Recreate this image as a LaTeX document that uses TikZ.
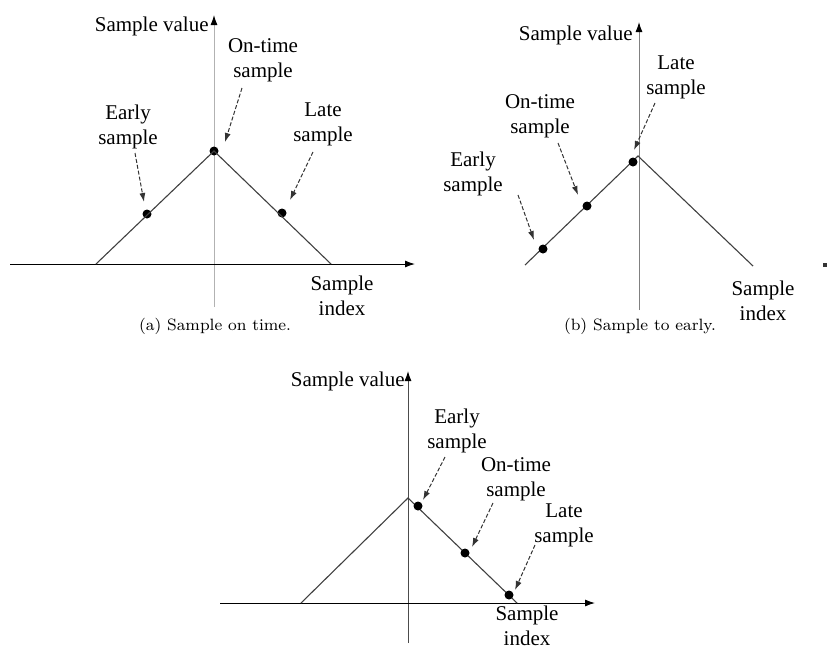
\documentclass[tikz,border=0pt]{standalone}
\usepackage{fontspec}
\setmainfont{Liberation Serif}
\newfontfamily\capfont{Latin Modern Roman}
\usetikzlibrary{arrows.meta}
\begin{document}
\begin{tikzpicture}[x=0.5pt,y=-0.5pt,
  lbl/.style={align=center,inner sep=0pt,font=\fontsize{10.5}{12.5}\selectfont},
  capt/.style={inner sep=0pt,font=\capfont\fontsize{8.2}{10}\selectfont},
  axis/.style={line width=0.5pt,-{Latex[length=5pt,width=3.5pt,color=black]}},
  curve/.style={line width=0.55pt,black!75},
  ptr/.style={line width=0.5pt,black!80,dash pattern=on 2pt off 1pt,-{Latex[length=4.5pt,width=3pt]}},
  smp/.style={circle,fill=black,inner sep=0pt,minimum size=4.5pt}]
\useasboundingbox (0,0) rectangle (828,649);
\clip (0,0) rectangle (828,649);
% ---------- panel (a)
\coordinate (a0) at (214,307); \coordinate (a1) at (214,15);
\coordinate (ax0) at (10,264); \coordinate (ax1) at (415,264);
\coordinate (aL) at (96,264); \coordinate (aR) at (331,264);
\draw[axis,black!30] (a0) -- (a1);
\draw[axis] (ax0) -- (ax1);
\node[smp] (ae) at (147,214) {};
\node[smp] (ao) at (214,151) {};
\node[smp] (al) at (282,213) {};
\draw[curve] (aL) -- (ao.center) -- (aR);
\node[lbl,anchor=east] (asv) at (209,26) {Sample value};
\node[lbl] (aot) at (263,60) {On-time\\sample};
\node[lbl] (aet) at (128,127) {Early\\sample};
\node[lbl] (alt) at (323,124) {Late\\sample};
\node[lbl] (asi) at (342,296) {Sample\\index};
\coordinate (aot1) at (242,88); \coordinate (aot2) at (225,142);
\coordinate (aet1) at (135,153); \coordinate (aet2) at (144,202);
\coordinate (alt1) at (313,152); \coordinate (alt2) at (290,200);
\draw[ptr] (aot1) -- (aot2);
\draw[ptr] (aet1) -- (aet2);
\draw[ptr] (alt1) -- (alt2);
\node[capt] (acap) at (215,326) {(a) Sample on time.};
% ---------- panel (b)
\coordinate (b0) at (639,310); \coordinate (b1) at (639,22);
\coordinate (bL) at (525,265); \coordinate (bP) at (638,156); \coordinate (bR) at (753,266);
\draw[axis,black!50] (b0) -- (b1);
\draw[curve] (bL) -- (bP) -- (bR);
\node[smp] (be) at (543,249) {};
\node[smp] (bo) at (587,206) {};
\node[smp] (bl) at (633,162) {};
\node[lbl,anchor=east] (bsv) at (633,35) {Sample value};
\node[lbl] (blt) at (676,77) {Late\\sample};
\node[lbl] (bot) at (540,116) {On-time\\sample};
\node[lbl] (bet) at (473,174) {Early\\sample};
\node[lbl] (bsi) at (763,301) {Sample\\index};
\coordinate (blt1) at (655,103); \coordinate (blt2) at (634,150);
\coordinate (bot1) at (558,143); \coordinate (bot2) at (578,195);
\coordinate (bet1) at (518,195); \coordinate (bet2) at (534,240);
\draw[ptr] (blt1) -- (blt2);
\draw[ptr] (bot1) -- (bot2);
\draw[ptr] (bet1) -- (bet2);
\coordinate (bm1) at (823,265); \coordinate (bm2) at (827,265);
\draw[line width=1.6pt,black!80] (bm1) -- (bm2);
\node[capt] (bcap) at (640,326) {(b) Sample to early.};
% ---------- panel (c)
\coordinate (c0) at (408,643); \coordinate (c1) at (408,371);
\coordinate (cx0) at (220,603); \coordinate (cx1) at (595,603);
\coordinate (cL) at (301,603); \coordinate (cP) at (408,498); \coordinate (cR) at (517,603);
\draw[axis,black!70] (c0) -- (c1);
\draw[axis] (cx0) -- (cx1);
\draw[curve] (cL) -- (cP) -- (cR);
\node[smp] (ce) at (418,506) {};
\node[smp] (co) at (465,553) {};
\node[smp] (cl) at (509,595) {};
\node[lbl,anchor=east] (csv) at (405,381) {Sample value};
\node[lbl] (cet) at (457,431) {Early\\sample};
\node[lbl] (cot) at (516,479) {On-time\\sample};
\node[lbl] (clt) at (564,525) {Late\\sample};
\node[lbl] (csi) at (527,626) {Sample\\index};
\coordinate (cet1) at (445,457); \coordinate (cet2) at (423,500);
\coordinate (cot1) at (493,503); \coordinate (cot2) at (472,547);
\coordinate (clt1) at (535,545); \coordinate (clt2) at (515,590);
\draw[ptr] (cet1) -- (cet2);
\draw[ptr] (cot1) -- (cot2);
\draw[ptr] (clt1) -- (clt2);
\end{tikzpicture}
\end{document}
